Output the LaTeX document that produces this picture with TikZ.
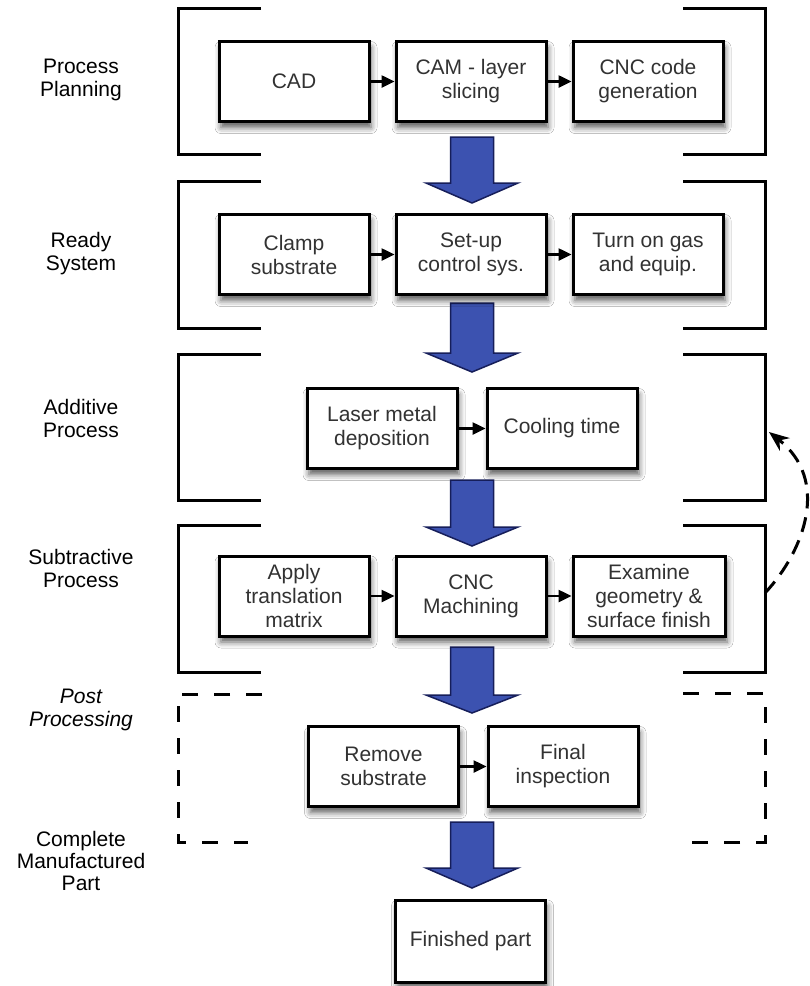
\documentclass[tikz,border=0pt]{standalone}
\usepackage{fontspec}
\setmainfont{Liberation Sans}
\usetikzlibrary{arrows.meta,shadows.blur}

\definecolor{arrowblue}{RGB}{60,82,176}
\definecolor{arrowedge}{RGB}{22,30,90}
\definecolor{boxtext}{RGB}{50,50,50}

\tikzset{
  stage/.style={draw, line width=3pt, fill=white, minimum width=150pt,
    minimum height=80pt, align=center, inner sep=2pt, text=boxtext,
    font=\fontsize{21}{24}\selectfont,
    blur shadow={shadow xshift=2pt, shadow yshift=-6pt,
      shadow blur radius=6pt, shadow opacity=65}},
  phase/.style={align=center, text=black, font=\fontsize{21}{23}\selectfont},
  link/.style={line width=2.5pt, -{Triangle[length=13pt,width=12pt]}},
  bracket/.style={line width=3pt, line join=miter},
  flowarrow/.style={fill=arrowblue, draw=arrowedge, line width=1.5pt, line join=miter},
  feedback/.style={line width=3pt, dash pattern=on 15pt off 9pt,
    -{Stealth[length=20pt,width=16pt]}},
}

% block arrow pointing down: shaft top, head base, tip
\newcommand\flowdown[3]{%
  \draw[flowarrow] (450.5,#1) -- (493.5,#1) -- (493.5,#2) -- (518,#2)
    -- (472,#3) -- (426,#2) -- (450.5,#2) -- cycle;}

% pair of brackets enclosing one phase
\newcommand\phasebracket[3][]{%
  \draw[bracket,#1] (261,#2) -- (178,#2) -- (178,#3) -- (261,#3);
  \draw[bracket,#1] (683,#2) -- (765,#2) -- (765,#3) -- (683,#3);}

\begin{document}
\begin{tikzpicture}[x=1pt,y=-1pt]
\useasboundingbox[fill=white] (0,0) rectangle (810,986);

% phase brackets
\phasebracket{8}{154}
\phasebracket{181}{328}
\phasebracket{354}{500}
\phasebracket{525}{672}
\draw[bracket, dash pattern=on 16pt off 16pt] (262,694) -- (178,694) -- (178,842) -- (248,842);
\draw[bracket, dash pattern=on 16pt off 16pt] (683,693) -- (765,693) -- (765,842) -- (692,842);

% phase labels
\node[phase] (lplan) at (81,80) {Process\\Planning};
\node[phase] (lready) at (81,254) {Ready\\System};
\node[phase] (ladd) at (81,418) {Additive\\Process};
\node[phase] (lsub) at (81,568) {Subtractive\\Process};
\node[phase, font=\fontsize{21}{23}\selectfont\itshape] (lpost) at (81,710) {Post\\Processing};
\node[phase, font=\fontsize{21}{22}\selectfont] (lpart) at (81,861) {Complete\\Manufactured\\Part};

% flow between phases
\flowdown{137}{183}{203}
\flowdown{303}{353}{372}
\flowdown{480}{527}{546}
\flowdown{647}{695}{713}
\flowdown{822}{868}{888}

% process planning
\node[stage] (cad) at (294,81.5) {CAD};
\node[stage] (cam) at (471,81.5) {CAM - layer\\slicing};
\node[stage] (cnc) at (648,81.5) {CNC code\\generation};

% ready system
\node[stage] (clamp) at (294,254.5) {Clamp\\substrate};
\node[stage] (setup) at (471,254.5) {Set-up\\control sys.};
\node[stage] (gas) at (648,254.5) {Turn on gas\\and equip.};

% additive process
\node[stage] (laser) at (382,428.5) {Laser metal\\deposition};
\node[stage] (cool) at (562,428.5) {Cooling time};

% subtractive process
\node[stage] (apply) at (294,596) {Apply\\translation\\matrix};
\node[stage] (mach) at (471,596) {CNC\\Machining};
\node[stage, minimum width=152pt] (exam) at (649,596) {Examine\\geometry \&\\surface finish};

% post processing
\node[stage] (remove) at (383.5,766.5) {Remove\\substrate};
\node[stage] (final) at (563,766.5) {Final\\inspection};

% finished part
\node[stage, minimum height=82pt] (part) at (470.5,941) {Finished part};

% links inside each phase
\draw[link] (cad) -- (cam);
\draw[link] (cam) -- (cnc);
\draw[link] (clamp) -- (setup);
\draw[link] (setup) -- (gas);
\draw[link] (laser) -- (cool);
\draw[link] (apply) -- (mach);
\draw[link] (mach) -- (exam);
\draw[link] (remove) -- (final);

% repeat loop back to deposition
\coordinate (fbstart) at (765,593);
\coordinate (fbend) at (769,432);
\draw[feedback] (fbstart) .. controls (805,550) and (830,480) .. (fbend);
\end{tikzpicture}
\end{document}
